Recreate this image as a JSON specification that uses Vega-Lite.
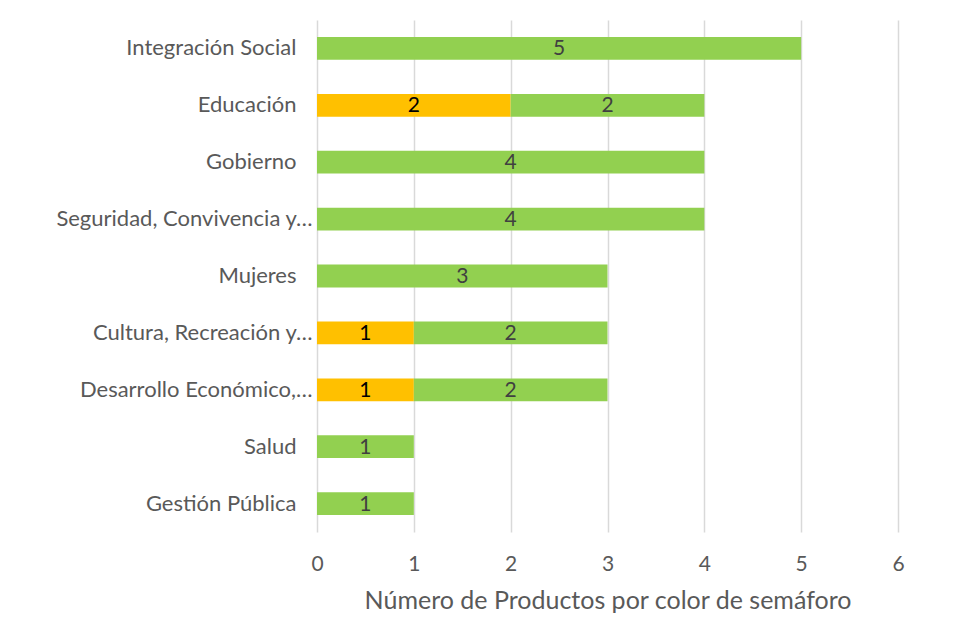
{
  "$schema": "https://vega.github.io/schema/vega-lite/v6.json",
  "width": 581,
  "height": 512,
  "autosize": {"type": "none"},
  "padding": {"left": 317, "top": 20, "right": 63, "bottom": 99},
  "background": "white",
  "config": {"view": {"stroke": null}, "font": "Lato"},
  "data": {"values": [
    {"area": "Integración Social", "color": "Verde", "n": 5},
    {"area": "Educación", "color": "Amarillo", "n": 2},
    {"area": "Educación", "color": "Verde", "n": 2},
    {"area": "Gobierno", "color": "Verde", "n": 4},
    {"area": "Seguridad, Convivencia y…", "color": "Verde", "n": 4},
    {"area": "Mujeres", "color": "Verde", "n": 3},
    {"area": "Cultura, Recreación y…", "color": "Amarillo", "n": 1},
    {"area": "Cultura, Recreación y…", "color": "Verde", "n": 2},
    {"area": "Desarrollo Económico,…", "color": "Amarillo", "n": 1},
    {"area": "Desarrollo Económico,…", "color": "Verde", "n": 2},
    {"area": "Salud", "color": "Verde", "n": 1},
    {"area": "Gestión Pública", "color": "Verde", "n": 1}
  ]},
  "transform": [
    {"stack": "n", "groupby": ["area"], "sort": [{"field": "color", "order": "ascending"}], "as": ["x0", "x1"]},
    {"calculate": "(datum.x0 + datum.x1) / 2", "as": "mid"}
  ],
  "encoding": {
    "y": {
      "field": "area", "type": "nominal", "sort": null,
      "scale": {"paddingInner": 0.6, "paddingOuter": 0.3},
      "axis": {
        "title": null, "domain": false, "ticks": false, "labelPadding": 5, "labelFontSize": 22, "labelColor": "#595959", "labelLimit": 400,
        "labelExpr": "indexof(datum.label, '…') >= 0 ? datum.label : datum.label + '⠀'"
      }
    }
  },
  "layer": [
    {
      "mark": {"type": "bar"},
      "encoding": {
        "x": {
          "field": "x0", "type": "quantitative",
          "scale": {"domain": [0, 6]},
          "axis": {"title": "Número de Productos por color de semáforo", "titleFontSize": 25, "titleFontWeight": "normal", "titleColor": "#595959", "titlePadding": 14, "tickCount": 6, "domain": false, "ticks": false, "labelFlush": false, "labelPadding": 21, "labelFontSize": 21, "labelColor": "#595959", "grid": true, "gridColor": "#d9d9d9", "gridWidth": 1.5}
        },
        "x2": {"field": "x1"},
        "color": {"field": "color", "type": "nominal", "scale": {"domain": ["Amarillo", "Verde"], "range": ["#FFC000", "#92D050"]}, "legend": null}
      }
    },
    {
      "mark": {"type": "text", "fontSize": 21, "baseline": "middle", "dy": 1},
      "encoding": {
        "x": {"field": "mid", "type": "quantitative"},
        "text": {"field": "n", "type": "quantitative"},
        "color": {"field": "color", "type": "nominal", "scale": {"domain": ["Amarillo", "Verde"], "range": ["#000000", "#404040"]}, "legend": null}
      }
    }
  ],
  "resolve": {"scale": {"color": "independent"}}
}
